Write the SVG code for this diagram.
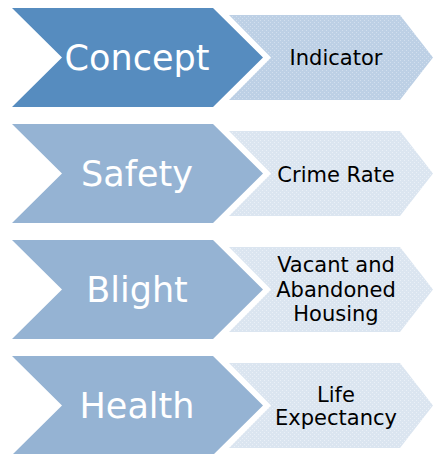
<svg xmlns="http://www.w3.org/2000/svg" width="433" height="454" viewBox="0 0 433 454">
<style>
.big{font-family:"DejaVu Sans",Verdana,sans-serif;font-size:35px;fill:#ffffff;text-anchor:middle}
.small{font-family:"DejaVu Sans",Verdana,sans-serif;font-size:21px;fill:#000000;text-anchor:middle}
</style>
<defs>
<pattern id="p1" width="4" height="4" patternUnits="userSpaceOnUse">
<rect width="4" height="4" fill="#BDD0E5"/>
<rect x="0" y="0" width="1" height="1" fill="#D2DFEE"/>
<rect x="2" y="2" width="1" height="1" fill="#D2DFEE"/>
</pattern>
<pattern id="p2" width="4" height="4" patternUnits="userSpaceOnUse">
<rect width="4" height="4" fill="#DBE5F0"/>
<rect x="0" y="0" width="1" height="1" fill="#EAF0F7"/>
<rect x="2" y="2" width="1" height="1" fill="#EAF0F7"/>
</pattern>
<polygon id="bigShape" points="12,0 213,0 263,49.5 213,99 12,99 62,49.5"/>
<polygon id="smallShape" points="229,7 400,7 433,49.5 400,92 229,92 271,49.5"/>
</defs>
<rect width="433" height="454" fill="#ffffff"/>
<g id="connectors"></g>
<g id="concept" transform="translate(0,8)">
<use href="#smallShape" fill="url(#p1)"/>
<use href="#bigShape" fill="#568CBF"/>
<text class="big" x="137" y="62">Concept</text>
<text class="small" x="336" y="57">Indicator</text>
</g>
<g id="safety" transform="translate(0,124)">
<use href="#smallShape" fill="url(#p2)"/>
<use href="#bigShape" fill="#95B3D3"/>
<text class="big" x="137" y="62">Safety</text>
<text class="small" x="336" y="58">Crime Rate</text>
</g>
<g id="blight" transform="translate(0,240)">
<use href="#smallShape" fill="url(#p2)"/>
<use href="#bigShape" fill="#95B3D3"/>
<text class="big" x="137" y="62">Blight</text>
<text class="small" x="336" y="32">Vacant and</text>
<text class="small" x="336" y="57">Abandoned</text>
<text class="small" x="336" y="81">Housing</text>
</g>
<g id="health" transform="translate(0,356)">
<use href="#smallShape" fill="url(#p2)"/>
<use href="#bigShape" fill="#95B3D3"/>
<text class="big" x="137" y="62">Health</text>
<text class="small" x="336" y="46">Life</text>
<text class="small" x="336" y="69">Expectancy</text>
</g>
</svg>
